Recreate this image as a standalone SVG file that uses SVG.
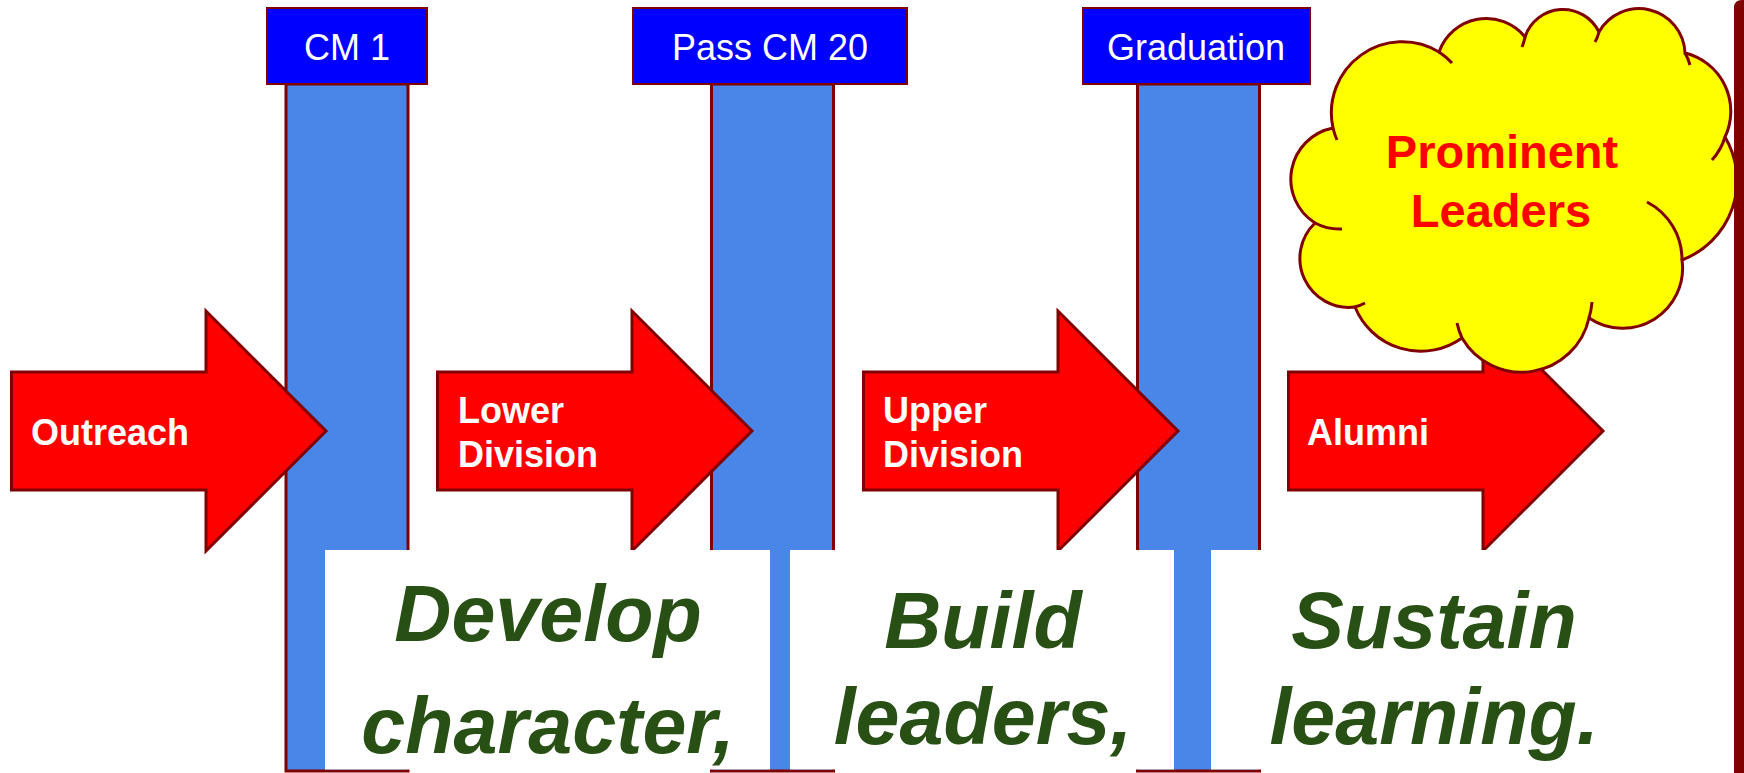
<svg xmlns="http://www.w3.org/2000/svg" width="1744" height="773" viewBox="0 0 1744 773">
<defs>
<style>
.bar{fill:#4A86E8;stroke:#800000;stroke-width:3}
.box{fill:#0000FF;stroke:#800000;stroke-width:2}
.boxt{font-family:"Liberation Sans",Arial,sans-serif;font-size:36px;fill:#FFFFFF;text-anchor:middle}
.arrow{fill:#FF0000;stroke:#800000;stroke-width:3;stroke-linejoin:miter}
.arrt{font-family:"Liberation Sans",Arial,sans-serif;font-size:36px;font-weight:bold;fill:#FFFFFF}
.panel{fill:#FFFFFF}
.big{font-family:"Liberation Sans",Arial,sans-serif;font-size:79px;font-weight:bold;font-style:italic;fill:#285015;text-anchor:middle}
.cloud{fill:#FFFF00;stroke:#800000;stroke-width:3}
.cline{fill:none;stroke:#800000;stroke-width:3}
.cloudt{font-family:"Liberation Sans",Arial,sans-serif;font-size:47px;font-weight:bold;fill:#FF0000;text-anchor:middle}
</style>
</defs>
<rect width="1744" height="773" fill="#FFFFFF"/>
<g id="bars">
<rect class="bar" x="286" y="84" width="122" height="687"/>
<rect class="bar" x="711.5" y="84" width="122" height="687"/>
<rect class="bar" x="1137.5" y="84" width="122" height="687"/>
</g>
<g id="node-cm1">
<rect class="box" x="267" y="8" width="160" height="76"/>
<text class="boxt" x="347" y="60">CM 1</text>
</g>
<g id="node-passcm20">
<rect class="box" x="633" y="8" width="274" height="76"/>
<text class="boxt" x="770" y="60">Pass CM 20</text>
</g>
<g id="node-graduation">
<rect class="box" x="1083" y="8" width="227" height="76"/>
<text class="boxt" x="1196" y="60">Graduation</text>
</g>
<g id="node-outreach">
<path class="arrow" d="M11.5,372 H206 V311 L326,431 L206,551 V490 H11.5 Z"/>
<text class="arrt" x="31" y="445">Outreach</text>
</g>
<g id="node-lower">
<path class="arrow" d="M437.5,372 H632 V311 L752,431 L632,551 V490 H437.5 Z"/>
<text class="arrt" x="458" y="423">Lower</text>
<text class="arrt" x="458" y="467">Division</text>
</g>
<g id="node-upper">
<path class="arrow" d="M863.5,372 H1058 V311 L1178,431 L1058,551 V490 H863.5 Z"/>
<text class="arrt" x="883" y="423">Upper</text>
<text class="arrt" x="883" y="467">Division</text>
</g>
<g id="node-alumni">
<path class="arrow" d="M1288.5,372 H1483 V311 L1603,431 L1483,551 V490 H1288.5 Z"/>
<text class="arrt" x="1307" y="445">Alumni</text>
</g>
<g id="node-develop">
<rect class="panel" x="325" y="550" width="445" height="219.5"/>
<text class="big" x="548" y="641">Develop</text>
<text class="big" x="548" y="753">character,</text>
</g>
<g id="node-build">
<rect class="panel" x="790" y="550" width="384" height="219.5"/>
<text class="big" x="983" y="648">Build</text>
<text class="big" x="983" y="744">leaders,</text>
</g>
<g id="node-sustain">
<rect class="panel" x="1211" y="550" width="523" height="219.5"/>
<text class="big" x="1434" y="648">Sustain</text>
<text class="big" x="1434" y="744">learning.</text>
</g>
<g id="node-prominent">
<path class="cloud" d="M1333,128 A71,71 0 0 1 1439,52 A50,50 0 0 1 1525,37 A40,40 0 0 1 1599,32 A46,46 0 0 1 1685,53 A60,60 0 0 1 1725,137 A85,85 0 0 1 1682,260 A60,60 0 0 1 1589,318 A69,69 0 0 1 1462,338 A71,71 0 0 1 1355,307 A49,49 0 0 1 1315,223 A52,52 0 0 1 1333,128 Z"/>
<path class="cline" d="M1333,128 A71,71 0 0 0 1337,140 M1439,52 A71,71 0 0 1 1452,63 M1525,37 A50,50 0 0 1 1522,47 M1599,32 A40,40 0 0 1 1595,42 M1685,53 A46,46 0 0 1 1690,65 M1725,137 A60,60 0 0 1 1712,160 M1682,260 A65,65 0 0 0 1647,202 M1589,318 A69,69 0 0 0 1592,302 M1462,338 A69,69 0 0 1 1457,323 M1355,307 A49,49 0 0 0 1365,303 M1315,223 A52,52 0 0 0 1342,229"/>
<text class="cloudt" x="1502" y="168">Prominent</text>
<text class="cloudt" x="1501" y="227">Leaders</text>
</g>
<g id="frame">
<path d="M1744,0 H1742 Q1734,0 1734,8 V773 H1744 Z" fill="#800000"/>
</g>
<g id="connectors"/>
</svg>
